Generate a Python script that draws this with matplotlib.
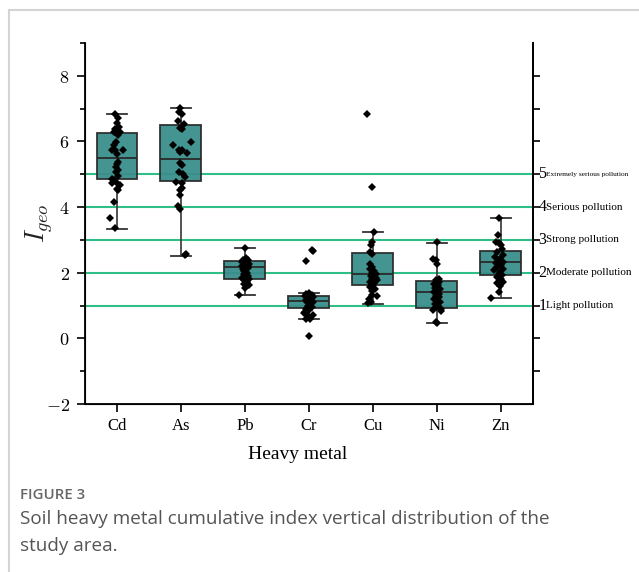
import matplotlib.pyplot as plt
import matplotlib.transforms as mtransforms
from matplotlib.lines import Line2D

plt.rcParams["mathtext.fontset"] = "cm"

metals = ["Cd", "As", "Pb", "Cr", "Cu", "Ni", "Zn"]

# box statistics
q1 = [4.85, 4.81, 1.82, 0.94, 1.64, 0.94, 1.92]
med = [5.51, 5.48, 2.16, 1.15, 1.95, 1.40, 2.34]
q3 = [6.27, 6.49, 2.35, 1.30, 2.61, 1.74, 2.67]
whis_lo = [3.34, 2.52, 1.32, 0.58, 1.05, 0.48, 1.23]
whis_hi = [6.83, 7.03, 2.75, 1.37, 3.24, 2.92, 3.67]

# individual samples (Igeo) and their horizontal jitter
cd = [6.85, 6.70, 6.56, 6.45, 6.39, 6.35, 6.32, 6.29, 6.29, 6.19, 5.99, 5.88, 5.73, 5.73, 5.73,
      5.63, 5.38, 5.30, 5.23, 5.12, 5.07, 4.95, 4.87, 4.84, 4.77, 4.72, 4.66, 4.56, 4.51, 4.16,
      3.68, 3.36]
cd_dx = [-0.03, 0.01, 0.0, 0.03, -0.03, -0.01, 0.0, 0.04, -0.05, 0.01, -0.01, -0.04, -0.08, -0.03, 0.09,
         0.0, 0.01, 0.0, -0.02, 0.01, -0.01, 0.02, -0.08, -0.04, -0.01, -0.08, 0.04, 0.0, 0.02, -0.05,
         -0.11, -0.03]
as_ = [7.03, 6.90, 6.85, 6.63, 6.52, 6.42, 6.39, 5.99, 5.88, 5.75, 5.75, 5.68, 5.66, 5.33, 5.27,
       5.07, 5.02, 4.92, 4.77, 4.72, 4.59, 4.51, 4.36, 4.02, 3.95, 2.58, 2.53]
as_dx = [-0.01, -0.03, 0.01, -0.05, 0.04, -0.01, 0.01, 0.16, -0.13, -0.03, 0.02, -0.01, 0.10, -0.01, 0.01,
         -0.03, 0.03, 0.06, -0.07, 0.01, 0.02, -0.01, -0.02, -0.04, -0.02, 0.08, 0.06]
pb = [2.75, 2.45, 2.40, 2.38, 2.35, 2.32, 2.30, 2.28, 2.25, 2.22, 2.20, 2.18, 2.15, 2.12, 2.10,
      2.05, 2.00, 1.95, 1.90, 1.85, 1.80, 1.77, 1.72, 1.67, 1.62, 1.52, 1.33]
pb_dx = [0.0, 0.02, -0.03, 0.05, 0.0, -0.05, 0.03, 0.06, -0.02, 0.04, -0.04, 0.0, 0.05, -0.03, 0.02,
         -0.01, 0.03, -0.02, 0.04, -0.04, 0.06, -0.01, 0.03, -0.02, 0.07, 0.0, -0.09]
cr = [2.70, 2.66, 2.36, 1.38, 1.35, 1.33, 1.30, 1.28, 1.25, 1.22, 1.20, 1.18, 1.15, 1.12, 1.10,
      1.05, 1.00, 0.95, 0.90, 0.85, 0.80, 0.76, 0.72, 0.70, 0.65, 0.60, 0.58, 0.07]
cr_dx = [0.04, 0.06, -0.05, 0.0, -0.04, 0.05, 0.02, -0.06, 0.07, -0.02, 0.03, -0.05, 0.01, 0.06, -0.03,
         0.02, -0.01, 0.04, -0.04, 0.0, -0.06, -0.08, -0.03, 0.07, -0.02, 0.02, -0.04, 0.0]
cu = [6.85, 4.61, 3.24, 2.94, 2.84, 2.62, 2.58, 2.28, 2.17, 2.10, 2.05, 2.00, 1.97, 1.93, 1.90,
      1.85, 1.80, 1.78, 1.72, 1.68, 1.62, 1.58, 1.50, 1.45, 1.31, 1.28, 1.21, 1.11, 1.08]
cu_dx = [-0.10, -0.02, 0.02, -0.02, -0.03, -0.05, -0.01, -0.05, -0.01, -0.04, 0.02, -0.02, 0.05, 0.0, -0.03,
         0.04, -0.01, 0.06, -0.04, 0.02, 0.0, -0.05, 0.03, -0.02, -0.01, 0.06, -0.06, -0.03, -0.07]
ni = [2.94, 2.43, 2.38, 2.28, 1.82, 1.77, 1.72, 1.67, 1.62, 1.55, 1.50, 1.45, 1.40, 1.35, 1.30,
      1.25, 1.20, 1.15, 1.10, 1.05, 1.00, 0.95, 0.90, 0.85, 0.82, 0.50, 0.47]
ni_dx = [0.0, -0.06, -0.02, 0.0, 0.04, -0.01, 0.03, -0.05, 0.02, -0.03, 0.05, 0.0, -0.04, 0.03, -0.02,
         0.04, -0.05, 0.01, 0.05, -0.03, 0.02, -0.01, 0.06, -0.06, 0.07, -0.01, 0.0]
zn = [3.67, 3.16, 2.93, 2.90, 2.85, 2.72, 2.63, 2.55, 2.48, 2.42, 2.38, 2.33, 2.30, 2.25, 2.17,
      2.12, 2.07, 2.02, 1.97, 1.92, 1.87, 1.80, 1.77, 1.72, 1.69, 1.60, 1.41, 1.22]
zn_dx = [-0.03, -0.04, -0.07, -0.03, 0.0, 0.02, -0.06, 0.03, -0.10, -0.01, -0.02, 0.04, -0.08, 0.0, -0.06,
         0.03, -0.11, -0.02, -0.03, 0.02, -0.06, 0.0, -0.02, 0.03, -0.06, -0.01, -0.03, -0.15]

samples = [cd, as_, pb, cr, cu, ni, zn]
jitter = [cd_dx, as_dx, pb_dx, cr_dx, cu_dx, ni_dx, zn_dx]

levels = [1, 2, 3, 4, 5]
level_names = ["Light pollution", "Moderate pollution", "Strong pollution",
               "Serious pollution", "Extremely serious pollution"]

box_color = "#3a8e8b"
line_color = "#2fbf86"
edge = "#2a2a2a"

fig = plt.figure(figsize=(6.39, 5.72), dpi=100)
ax = fig.add_axes([0.133, 0.2937, 0.701, 0.6311])

stats = []
for i in range(len(metals)):
    stats.append(dict(q1=q1[i], med=med[i], q3=q3[i], whislo=whis_lo[i], whishi=whis_hi[i], fliers=[]))

for lv in levels:
    ax.axhline(lv, color=line_color, lw=1.5, zorder=1)

ax.bxp(stats, positions=range(len(metals)), widths=0.64, patch_artist=True, showfliers=False,
       boxprops=dict(facecolor=box_color, edgecolor=edge, linewidth=1.3, alpha=0.95),
       medianprops=dict(color=edge, linewidth=1.3),
       whiskerprops=dict(color="#444444", linewidth=1.3),
       capprops=dict(color="#333333", linewidth=1.3),
       capwidths=0.32, zorder=2)

for i, (vals, dx) in enumerate(zip(samples, jitter)):
    ax.plot([i + d for d in dx], vals, "D", color="black", ms=3.8, mew=0, zorder=3)

ax.set_xlim(-0.5, 6.5)
ax.set_ylim(-2, 9)
ax.set_xticks(range(len(metals)))
ax.set_xticklabels(metals, family="Liberation Serif", fontsize=12)
ax.set_yticks([-2, 0, 2, 4, 6, 8])
ax.set_yticklabels([r"${-}2$", r"$0$", r"$2$", r"$4$", r"$6$", r"$8$"], fontsize=13)
ax.set_yticks([-1, 1, 3, 5, 7, 9], minor=True)
ax.tick_params(axis="y", which="major", direction="out", length=6, width=1.2, pad=5)
ax.tick_params(axis="y", which="minor", direction="out", length=3.5, width=1.2)
ax.tick_params(axis="x", direction="out", length=6, width=1.2, pad=4)
ax.spines["top"].set_visible(False)
for s in ["left", "bottom", "right"]:
    ax.spines[s].set_linewidth(1.3)
ax.set_xlabel("Heavy metal", family="Liberation Serif", fontsize=14)
ax.xaxis.set_label_coords(0.475, -0.115)
ax.set_ylabel(r"$I_{geo}$", fontsize=19, color="#222222")
ax.yaxis.set_label_coords(-0.067, 0.5)

# right axis with pollution grades
ax2 = ax.twinx()
ax2.set_ylim(-2, 9)
ax2.spines["top"].set_visible(False)
ax2.spines["right"].set_linewidth(1.3)
ax2.set_yticks(range(-1, 9))
ax2.set_yticklabels([])
ax2.tick_params(axis="y", direction="out", length=5, width=1.2)
trans = mtransforms.blended_transform_factory(ax.transAxes, ax.transData)
for lv, name in zip(levels, level_names):
    fs = 5.3 if lv == 5 else 8
    ax.text(1.012, lv, str(lv), transform=trans, family="Liberation Serif", fontsize=11.5,
            va="center", ha="left", clip_on=False)
    ax.text(1.029, lv, name, transform=trans, family="Liberation Serif", fontsize=fs,
            va="center", ha="left", clip_on=False)

# frame and caption
fig.add_artist(Line2D([0.014, 0.014], [0.0, 0.983], color="#d4d4d4", lw=1.5))
fig.add_artist(Line2D([0.014, 1.0], [0.983, 0.983], color="#d4d4d4", lw=1.5))
fig.text(0.031, 0.1346, "FIGURE 3", family="Open Sans", fontsize=10.8, color="#666666",
         weight="semibold", va="center")
fig.text(0.031, 0.092, "Soil heavy metal cumulative index vertical distribution of the",
         family="Open Sans", fontsize=13.6, color="#555555", va="center")
fig.text(0.031, 0.046, "study area.", family="Open Sans", fontsize=13.6, color="#555555",
         va="center")

fig.savefig("out.png", dpi=100)
